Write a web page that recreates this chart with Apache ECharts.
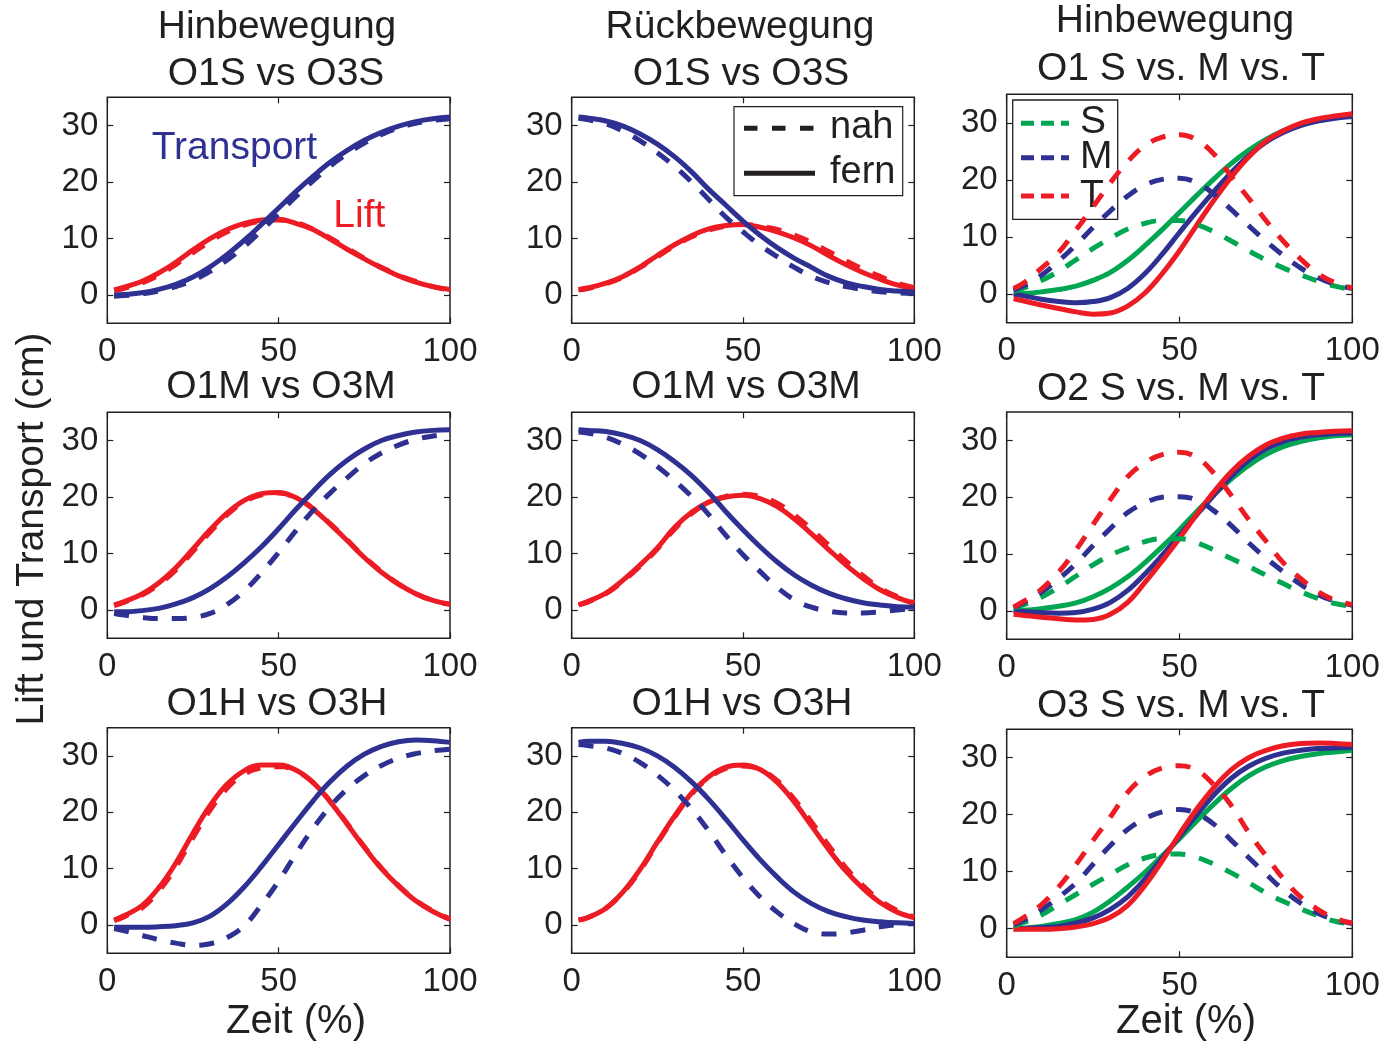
<!DOCTYPE html>
<html>
<head>
<meta charset="utf-8">
<script src="https://cdn.jsdelivr.net/npm/echarts@6.0.0/dist/echarts.min.js"></script>
<style>
  html, body { margin: 0; padding: 0; background: #ffffff; }
  #chart { width: 1394px; height: 1045px; }
</style>
</head>
<body>
<div id="chart"></div>
<script>
// Time axis (percent of movement) and tick values
const zeit = [2, 5, 10, 15, 20, 25, 30, 35, 40, 45, 50, 55, 60, 65, 70, 75, 80, 85, 90, 95, 100];
const xTicks = [0, 50, 100];
const yTicks = [0, 10, 20, 30];

// Hinbewegung, O1S vs O3S (nah = dashed, fern = solid)
const hinS_transFern = [0, 0.1, 0.4, 1.0, 1.9, 3.2, 5.0, 7.2, 9.7, 12.5, 15.4, 18.3, 21.0, 23.5, 25.6, 27.4, 28.8, 29.9, 30.7, 31.2, 31.5];
const hinS_transNah  = [-0.2, -0.1, 0.2, 0.7, 1.5, 2.6, 4.2, 6.2, 8.6, 11.4, 14.4, 17.4, 20.2, 22.8, 25.0, 26.9, 28.4, 29.6, 30.4, 30.9, 31.2];
const hinS_liftFern  = [0.9, 1.4, 2.4, 3.9, 5.8, 8.0, 10.0, 11.6, 12.7, 13.3, 13.4, 12.7, 11.6, 9.9, 8.1, 6.4, 4.8, 3.4, 2.3, 1.5, 1.0];
const hinS_liftNah   = [0.8, 1.2, 2.1, 3.5, 5.4, 7.5, 9.5, 11.2, 12.4, 13.1, 13.3, 12.8, 11.7, 10.1, 8.3, 6.5, 4.9, 3.5, 2.4, 1.5, 0.9];

// Rückbewegung, O1S vs O3S
const rueckS_transFern = [31.5, 31.3, 30.8, 29.9, 28.5, 26.7, 24.5, 21.8, 18.7, 15.9, 13.1, 10.6, 8.4, 6.5, 4.9, 3.3, 2.2, 1.5, 1.0, 0.7, 0.5];
const rueckS_transNah  = [31.3, 31.0, 30.3, 29.0, 27.3, 25.2, 22.8, 20.0, 16.9, 13.8, 11.2, 8.8, 6.8, 4.9, 3.3, 2.2, 1.5, 1.0, 0.6, 0.4, 0.3];
const rueckS_liftFern  = [1.0, 1.3, 2.1, 3.3, 5.0, 7.0, 8.9, 10.5, 11.7, 12.3, 12.5, 12.0, 11.2, 10.1, 8.7, 7.0, 5.4, 4.0, 2.8, 1.8, 1.1];
const rueckS_liftNah   = [0.9, 1.2, 2.0, 3.2, 4.9, 6.8, 8.7, 10.3, 11.5, 12.2, 12.5, 12.2, 11.6, 10.6, 9.3, 7.7, 6.1, 4.6, 3.3, 2.1, 1.3];

// Hinbewegung, O1 S vs. M vs. T
const o1_transS = [0, 0.1, 0.4, 0.8, 1.4, 2.4, 3.8, 5.9, 8.5, 11.3, 14.3, 17.3, 20.2, 22.9, 25.2, 27.1, 28.6, 29.7, 30.4, 30.9, 31.2];
const o1_transM = [0, -0.3, -0.9, -1.3, -1.5, -1.3, -0.6, 1.0, 3.6, 7.0, 10.8, 14.5, 18.0, 21.3, 24.2, 26.6, 28.3, 29.5, 30.3, 30.8, 31.1];
const o1_transT = [-0.8, -1.2, -1.9, -2.5, -3.1, -3.5, -3.3, -2.1, 0.2, 3.6, 7.6, 12.1, 16.5, 20.5, 24.0, 26.8, 28.6, 29.9, 30.7, 31.2, 31.6];
const o1_liftS  = [0.5, 1.1, 2.4, 4.0, 6.0, 8.0, 9.8, 11.4, 12.4, 12.9, 12.9, 12.2, 10.9, 9.3, 7.6, 6.0, 4.6, 3.4, 2.3, 1.4, 0.8];
const o1_liftM  = [0.7, 1.5, 3.3, 5.8, 8.6, 11.7, 14.6, 17.2, 19.1, 20.1, 20.3, 19.5, 17.5, 14.8, 12.0, 9.3, 6.8, 4.6, 2.9, 1.7, 1.0];
const o1_liftT  = [1.0, 2.0, 4.5, 7.3, 11.2, 15.3, 19.5, 23.2, 26.0, 27.5, 27.9, 27.0, 24.5, 20.6, 16.8, 12.9, 9.3, 6.2, 3.6, 2.0, 1.1];

// Hinbewegung, O1M vs O3M
const hinM_transFern = [-0.3, -0.3, -0.1, 0.3, 1.1, 2.2, 3.8, 5.9, 8.4, 11.2, 14.4, 17.8, 21.0, 24.0, 26.5, 28.5, 30.0, 30.9, 31.5, 31.8, 31.9];
const hinM_transNah  = [-0.6, -0.9, -1.3, -1.5, -1.5, -1.3, -0.6, 1.0, 3.4, 6.6, 10.2, 14.0, 17.6, 20.7, 23.4, 25.9, 27.8, 29.2, 30.2, 30.8, 31.2];
const hinM_liftFern  = [0.9, 1.5, 2.8, 4.8, 7.5, 10.8, 14.2, 17.2, 19.4, 20.6, 20.8, 19.9, 17.9, 15.2, 12.3, 9.3, 6.7, 4.6, 2.9, 1.7, 1.0];
const hinM_liftNah   = [0.8, 1.4, 2.6, 4.5, 7.1, 10.4, 13.8, 16.9, 19.2, 20.4, 20.7, 19.9, 18.0, 15.3, 12.4, 9.4, 6.8, 4.6, 2.9, 1.7, 1.0];

// Rückbewegung, O1M vs O3M
const rueckM_transFern = [31.9, 31.8, 31.6, 31.0, 30.0, 28.4, 26.3, 23.8, 20.8, 17.4, 14.2, 11.2, 8.5, 6.2, 4.4, 3.0, 2.0, 1.3, 0.9, 0.6, 0.5];
const rueckM_transNah  = [31.5, 31.3, 30.6, 29.3, 27.6, 25.4, 22.9, 20.1, 16.9, 13.2, 9.8, 6.8, 4.0, 1.8, 0.5, -0.2, -0.5, -0.5, -0.3, 0.0, 0.3];
const rueckM_liftFern  = [0.9, 1.6, 3.0, 5.3, 8.0, 11.0, 14.6, 17.3, 19.1, 20.0, 20.3, 19.7, 18.3, 16.1, 13.5, 10.7, 8.0, 5.6, 3.6, 2.2, 1.2];
const rueckM_liftNah   = [0.9, 1.5, 2.9, 5.1, 7.8, 10.8, 14.3, 17.1, 19.0, 20.1, 20.5, 20.1, 18.9, 16.8, 14.3, 11.5, 8.7, 6.1, 3.9, 2.4, 1.3];

// O2 S vs. M vs. T
const o2_transS = [0, 0.1, 0.4, 0.8, 1.4, 2.5, 4.0, 6.0, 8.5, 11.3, 14.3, 17.5, 20.5, 23.2, 25.6, 27.5, 28.9, 29.8, 30.4, 30.8, 31.0];
const o2_transM = [0, -0.1, -0.3, -0.4, -0.3, 0.3, 1.5, 3.6, 6.5, 9.8, 13.3, 16.9, 20.4, 23.7, 26.5, 28.5, 29.8, 30.6, 31.0, 31.2, 31.3];
const o2_transT = [-0.6, -0.8, -1.1, -1.4, -1.6, -1.5, -0.6, 1.5, 5.0, 8.8, 12.8, 17.0, 21.0, 24.5, 27.2, 29.2, 30.4, 31.1, 31.4, 31.6, 31.7];
const o2_liftS  = [0.5, 1.1, 2.4, 4.1, 6.1, 8.1, 9.8, 11.1, 12.2, 12.7, 12.7, 12.0, 10.7, 9.2, 7.8, 6.3, 4.8, 3.4, 2.2, 1.3, 0.8];
const o2_liftM  = [0.6, 1.5, 3.3, 5.6, 8.3, 11.5, 14.5, 17.3, 19.0, 20.0, 20.1, 19.5, 17.6, 15.0, 12.0, 9.3, 6.9, 4.7, 2.9, 1.7, 1.0];
const o2_liftT  = [0.7, 1.7, 3.8, 6.8, 10.7, 15.2, 19.6, 23.6, 26.1, 27.5, 27.9, 27.0, 24.2, 20.3, 16.1, 12.3, 8.5, 5.7, 3.4, 1.9, 1.1];

// Hinbewegung, O1H vs O3H
const hinH_transFern = [-0.4, -0.4, -0.4, -0.3, -0.1, 0.4, 1.6, 3.8, 6.8, 10.4, 14.3, 18.2, 22.0, 25.4, 28.2, 30.3, 31.7, 32.5, 32.8, 32.7, 32.4];
const hinH_transNah  = [-0.6, -1.0, -1.8, -2.6, -3.2, -3.6, -3.3, -2.2, -0.1, 3.6, 7.8, 12.6, 17.1, 21.0, 24.1, 26.5, 28.3, 29.6, 30.4, 30.9, 31.2];
const hinH_liftFern  = [0.9, 1.7, 3.4, 6.6, 11.0, 16.3, 21.2, 25.0, 27.4, 28.4, 28.4, 27.5, 25.3, 21.9, 17.9, 13.8, 10.0, 6.9, 4.3, 2.4, 1.0];
const hinH_liftNah   = [0.8, 1.5, 3.0, 6.0, 10.3, 15.5, 20.4, 24.3, 26.8, 27.9, 28.1, 27.4, 25.3, 22.0, 18.0, 13.9, 10.1, 7.0, 4.4, 2.5, 1.1];

// Rückbewegung, O1H vs O3H
const rueckH_transFern = [32.4, 32.6, 32.6, 32.2, 31.4, 30.0, 28.0, 25.4, 22.3, 18.8, 15.1, 11.6, 8.5, 5.8, 3.8, 2.4, 1.5, 0.9, 0.6, 0.4, 0.3];
const rueckH_transNah  = [32.0, 31.8, 31.4, 30.4, 28.8, 26.6, 23.9, 20.6, 16.7, 12.4, 8.4, 5.0, 2.3, 0.2, -1.2, -1.6, -1.4, -0.9, -0.3, 0.1, 0.3];
const rueckH_liftFern  = [0.9, 1.4, 3.0, 5.9, 9.9, 14.7, 19.3, 23.4, 26.3, 28.0, 28.4, 27.6, 25.3, 21.8, 17.6, 13.4, 9.6, 6.5, 4.0, 2.3, 1.3];
const rueckH_liftNah   = [0.9, 1.4, 3.0, 5.8, 9.7, 14.5, 19.1, 23.2, 26.1, 27.8, 28.2, 27.6, 25.6, 22.3, 18.3, 14.1, 10.2, 7.0, 4.4, 2.6, 1.4];

// O3 S vs. M vs. T
const o3_transS = [0, 0.1, 0.4, 0.9, 1.6, 2.9, 4.9, 7.3, 9.9, 12.8, 15.8, 18.9, 21.9, 24.6, 26.8, 28.4, 29.5, 30.2, 30.7, 31.0, 31.3];
const o3_transM = [0, 0.05, 0.2, 0.4, 1.0, 1.9, 3.4, 5.6, 8.7, 12.4, 16.2, 20.0, 23.5, 26.4, 28.5, 29.9, 30.8, 31.3, 31.6, 31.7, 31.8];
const o3_transT = [-0.1, -0.1, -0.1, 0, 0.3, 0.9, 2.0, 4.1, 7.6, 11.9, 16.6, 21.0, 24.8, 27.9, 30.0, 31.3, 32.1, 32.5, 32.6, 32.5, 32.3];
const o3_liftS  = [0.5, 1.1, 2.4, 4.2, 6.0, 7.8, 9.5, 11.2, 12.4, 13.0, 13.1, 12.5, 11.3, 9.8, 8.1, 6.3, 4.8, 3.5, 2.3, 1.3, 0.8];
const o3_liftM  = [0.7, 1.5, 3.3, 5.5, 8.0, 11.3, 14.6, 17.4, 19.3, 20.5, 20.9, 20.2, 18.3, 15.5, 12.5, 9.6, 6.8, 4.5, 2.7, 1.6, 0.9];
const o3_liftT  = [0.9, 2.0, 4.2, 7.3, 11.2, 15.5, 19.6, 23.9, 26.7, 28.2, 28.6, 27.8, 25.2, 21.6, 16.9, 12.8, 8.8, 5.6, 3.4, 1.8, 1.0];

// ---- styling ----
const RED = '#ED1C24', BLUE = '#2E3192', GREEN = '#00A651', INK = '#231F20';
const FONT = "'Liberation Sans', Arial, Helvetica, sans-serif";
const LINE_W = 5;
const DASH = [15, 14];

// plot boxes: [left, top, width, height], row-major
const boxes = [
  [107.3, 97.3, 342.7, 226], [571.7, 97.3, 342.6, 226], [1006.7, 94.3, 345.6, 228.4],
  [107.3, 412.3, 342.7, 226], [571.7, 412.3, 342.6, 226], [1006.7, 412, 345.6, 227.3],
  [107.3, 727.7, 342.7, 225.6], [571.7, 727.7, 342.6, 225.6], [1006.7, 729.2, 345.6, 228]
];

// curve sets per panel: [values, colour, dashed]
function pairPanel(liftNah, liftFern, transNah, transFern) {
  return [[liftNah, RED, true], [liftFern, RED, false], [transNah, BLUE, true], [transFern, BLUE, false]];
}
function triPanel(tS, tM, tT, lS, lM, lT) {
  return [[tS, GREEN, false], [tM, BLUE, false], [tT, RED, false],
          [lS, GREEN, true], [lM, BLUE, true], [lT, RED, true]];
}
const panels = [
  pairPanel(hinS_liftNah, hinS_liftFern, hinS_transNah, hinS_transFern),
  pairPanel(rueckS_liftNah, rueckS_liftFern, rueckS_transNah, rueckS_transFern),
  triPanel(o1_transS, o1_transM, o1_transT, o1_liftS, o1_liftM, o1_liftT),
  pairPanel(hinM_liftNah, hinM_liftFern, hinM_transNah, hinM_transFern),
  pairPanel(rueckM_liftNah, rueckM_liftFern, rueckM_transNah, rueckM_transFern),
  triPanel(o2_transS, o2_transM, o2_transT, o2_liftS, o2_liftM, o2_liftT),
  pairPanel(hinH_liftNah, hinH_liftFern, hinH_transNah, hinH_transFern),
  pairPanel(rueckH_liftNah, rueckH_liftFern, rueckH_transNah, rueckH_transFern),
  triPanel(o3_transS, o3_transM, o3_transT, o3_liftS, o3_liftM, o3_liftT)
];

const grid = [], xAxis = [], yAxis = [], series = [];
const tickStyle = { inside: true, length: 6, lineStyle: { color: INK, width: 1.2 } };
const labelStyle = { color: INK, fontSize: 33, fontFamily: FONT };

boxes.forEach((b, i) => {
  grid.push({ left: b[0], top: b[1], width: b[2], height: b[3], show: true,
              borderColor: INK, borderWidth: 1.5, backgroundColor: 'transparent' });
  const xBase = { gridIndex: i, type: 'value', min: 0, max: 100, interval: 50,
                  splitLine: { show: false }, axisLine: { show: false, onZero: false } };
  xAxis.push(Object.assign({}, xBase, { position: 'bottom', axisTick: tickStyle,
              axisLabel: Object.assign({ margin: 12, customValues: xTicks }, labelStyle) }));
  xAxis.push(Object.assign({}, xBase, { position: 'top', axisTick: tickStyle, axisLabel: { show: false } }));
  const yBase = { gridIndex: i, type: 'value', min: -5, max: 35,
                  splitLine: { show: false }, axisLine: { show: false, onZero: false } };
  yAxis.push(Object.assign({}, yBase, { position: 'left',
              axisTick: Object.assign({ customValues: yTicks }, tickStyle),
              axisLabel: Object.assign({ margin: 9, customValues: yTicks }, labelStyle) }));
  yAxis.push(Object.assign({}, yBase, { position: 'right',
              axisTick: Object.assign({ customValues: yTicks }, tickStyle),
              axisLabel: { show: false } }));
  panels[i].forEach(([vals, color, dashed]) => {
    series.push({
      type: 'line', xAxisIndex: 2 * i, yAxisIndex: 2 * i,
      data: zeit.map((x, k) => [x, vals[k]]),
      showSymbol: false, symbol: 'none', smooth: 0.4, silent: true,
      lineStyle: { color: color, width: LINE_W, type: dashed ? DASH : 'solid', cap: 'butt' }
    });
  });
});

function label(text, x, y, size, color, extra) {
  return Object.assign({
    type: 'text', x: x, y: y, silent: true,
    style: { text: text, fill: color || INK, font: size + 'px ' + FONT,
             textAlign: 'center', textVerticalAlign: 'middle', align: 'center', verticalAlign: 'middle' }
  }, extra || {});
}
function leftLabel(text, x, y, size, color) {
  const t = label(text, x, y, size, color);
  t.style.textAlign = 'left'; t.style.align = 'left';
  return t;
}

const TITLE = 39;
const graphic = [
  // panel titles
  label('Hinbewegung', 277, 27, TITLE), label('O1S vs O3S', 276, 74, TITLE),
  label('Rückbewegung', 740, 27, TITLE), label('O1S vs O3S', 741, 74, TITLE),
  label('Hinbewegung', 1175, 21, TITLE), label('O1 S vs. M vs. T', 1181, 69, TITLE),
  label('O1M vs O3M', 281, 387, TITLE), label('O1M vs O3M', 746, 387, TITLE), label('O2 S vs. M vs. T', 1181, 389, TITLE),
  label('O1H vs O3H', 277, 704, TITLE), label('O1H vs O3H', 742, 704, TITLE), label('O3 S vs. M vs. T', 1181, 706, TITLE),
  // axis names
  label('Zeit (%)', 296, 1022, 40), label('Zeit (%)', 1186, 1022, 40),
  label('Lift und Transport (cm)', 32, 529, 39, INK, { rotation: Math.PI / 2 }),
  // curve annotations
  leftLabel('Transport', 151.7, 148.3, 39, BLUE),
  leftLabel('Lift', 333.3, 215.8, 39, RED),
  // line-style legend (nah / fern)
  { type: 'rect', silent: true, shape: { x: 734, y: 106.7, width: 168.7, height: 89 },
    style: { fill: 'transparent', stroke: INK, lineWidth: 1.2 } },
  { type: 'line', silent: true, shape: { x1: 744, y1: 128.3, x2: 815, y2: 128.3 },
    style: { stroke: INK, lineWidth: 5, lineDash: [13.5, 14.5] } },
  { type: 'line', silent: true, shape: { x1: 744, y1: 173.3, x2: 815, y2: 173.3 },
    style: { stroke: INK, lineWidth: 5 } },
  leftLabel('nah', 830, 128, 38), leftLabel('fern', 830, 173, 38),
  // colour legend (S / M / T)
  { type: 'rect', silent: true, shape: { x: 1012.7, y: 100, width: 105, height: 119.3 },
    style: { fill: 'transparent', stroke: INK, lineWidth: 1.3 } },
  { type: 'line', silent: true, shape: { x1: 1021, y1: 123.3, x2: 1069, y2: 123.3 },
    style: { stroke: GREEN, lineWidth: 5, lineDash: [13, 7] } },
  { type: 'line', silent: true, shape: { x1: 1021, y1: 157.7, x2: 1069, y2: 157.7 },
    style: { stroke: BLUE, lineWidth: 5, lineDash: [13, 7] } },
  { type: 'line', silent: true, shape: { x1: 1021, y1: 196, x2: 1069, y2: 196 },
    style: { stroke: RED, lineWidth: 5, lineDash: [13, 7] } },
  leftLabel('S', 1080, 122.5, 39), leftLabel('M', 1080, 157, 39), leftLabel('T', 1080, 196.3, 39)
];

const chart = echarts.init(document.getElementById('chart'), null, { renderer: 'canvas' });
chart.setOption({
  backgroundColor: '#ffffff',
  animation: false,
  grid: grid, xAxis: xAxis, yAxis: yAxis, series: series, graphic: graphic
});
</script>
</body>
</html>
